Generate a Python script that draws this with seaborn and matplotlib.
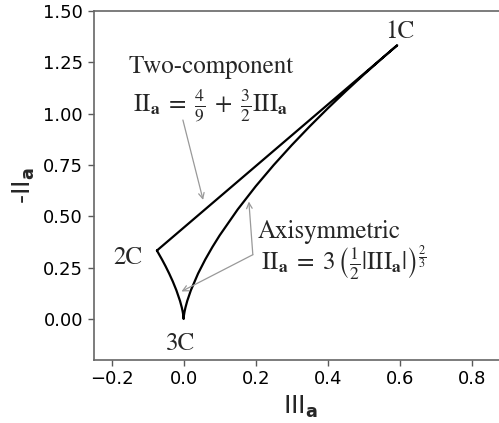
import matplotlib
matplotlib.use("Agg")
import matplotlib.pyplot as plt
import seaborn as sns
import pandas as pd

# Lumley-triangle boundaries
III_axi_left = [-0.0741, -0.06, -0.05, -0.04, -0.03, -0.02, -0.01, -0.005, -0.0025, -0.001, -0.0002, 0.0]
negII_axi_left = [0.3333, 0.2896, 0.2565, 0.2210, 0.1825, 0.1392, 0.0877, 0.0553, 0.0348, 0.0189, 0.0065, 0.0]
III_axi_right = [0.0, 0.0002, 0.001, 0.0025, 0.005, 0.01, 0.02, 0.04, 0.06, 0.08, 0.1, 0.15, 0.2,
                 0.25, 0.3, 0.35, 0.4, 0.45, 0.5, 0.55, 0.5926]
negII_axi_right = [0.0, 0.0065, 0.0189, 0.0348, 0.0553, 0.0877, 0.1392, 0.2210, 0.2896, 0.3509, 0.4072,
                   0.5335, 0.6463, 0.75, 0.8469, 0.9386, 1.0260, 1.1097, 1.1906, 1.2686, 1.3333]
III_two = [0.5926, -0.0741]
negII_two = [1.3333, 0.3333]

corner_labels = ["1C", "2C", "3C"]
x_ticks = [-0.2, 0.0, 0.2, 0.4, 0.6, 0.8]
y_ticks = [0.0, 0.25, 0.5, 0.75, 1.0, 1.25, 1.5]

sns.set_style("ticks")

fig = plt.figure(figsize=(4.99, 4.23), dpi=100)
ax = fig.add_axes([0.1874, 0.1489, 0.8307, 0.825])

df = pd.DataFrame({
    "III": III_axi_left + III_axi_right + III_two,
    "negII": negII_axi_left + negII_axi_right + negII_two,
})
sns.lineplot(data=df, x="III", y="negII", sort=False, estimator=None, color="black",
             lw=1.6, ax=ax)

ax.set_xlim(-0.25, 0.9)
ax.set_ylim(-0.2, 1.5)
ax.set_xticks(x_ticks)
ax.set_yticks(y_ticks)
ax.tick_params(labelsize=13, colors="0.35", labelcolor="black", length=4, width=1)
for s in ["left", "top", "bottom", "right"]:
    ax.spines[s].set_color("0.4")
    ax.spines[s].set_linewidth(1.2)

ax.set_xlabel(r"$\mathrm{III}_\mathbf{a}$", fontsize=18, family="DejaVu Sans",
              math_fontfamily="dejavusans")
ax.set_ylabel(r"-$\mathrm{II}_\mathbf{a}$", fontsize=18, family="DejaVu Sans",
              math_fontfamily="dejavusans")

serif = "STIXGeneral"
kw = dict(fontsize=18, family=serif, math_fontfamily="stix")
ax.text(0.60, 1.40, corner_labels[0], ha="center", va="center", **kw)
ax.text(-0.156, 0.295, corner_labels[1], ha="center", va="center", **kw)
ax.text(-0.008, -0.12, corner_labels[2], ha="center", va="center", **kw)

ax.text(0.076, 1.227, "Two-component", ha="center", va="center", **kw)
ax.text(0.076, 1.042,
        r"$\mathrm{II}_\mathbf{a}\;=\;\frac{4}{9}\;+\;\frac{3}{2}\mathrm{III}_\mathbf{a}$",
        ha="center", va="center", **kw)
ax.text(0.205, 0.425, "Axisymmetric", ha="left", va="center", **kw)
ax.text(0.215, 0.269,
        r"$\mathrm{II}_\mathbf{a}\;=\;3\,\left(\frac{1}{2}|\mathrm{III}_\mathbf{a}|\right)^{\frac{2}{3}}$",
        ha="left", va="center", **kw)

ap = dict(arrowstyle="->", color="0.6", lw=0.9, shrinkA=0, shrinkB=0)
ax.annotate("", xy=(0.054, 0.580), xytext=(-0.002, 0.969), arrowprops=ap)
ax.annotate("", xy=(0.181, 0.572), xytext=(0.192, 0.313), arrowprops=ap)
ax.annotate("", xy=(-0.006, 0.134), xytext=(0.192, 0.313), arrowprops=ap)

fig.savefig("out.png", dpi=100)
